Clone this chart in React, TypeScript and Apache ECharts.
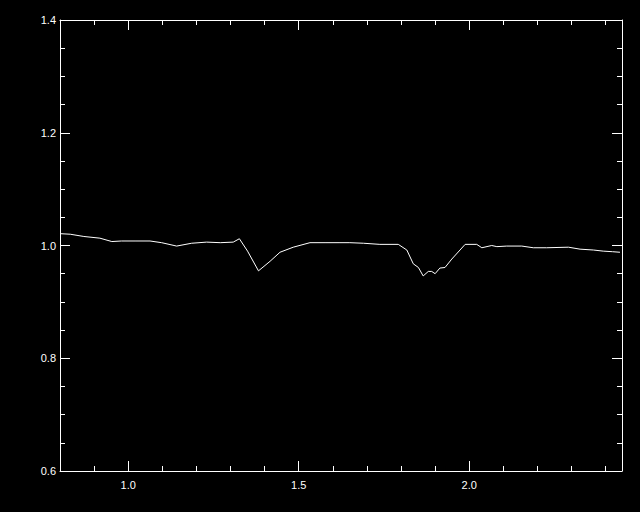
import React, { useEffect, useRef } from "react";
import * as echarts from "echarts";

const wavelength = [
  0.8, 0.83, 0.87, 0.917, 0.952, 0.98, 1.02, 1.064, 1.098, 1.142, 1.186, 1.23, 1.27, 1.308, 1.326,
  1.35, 1.382, 1.416, 1.445, 1.484, 1.533, 1.58, 1.621, 1.65, 1.69, 1.738, 1.792, 1.817, 1.836,
  1.851, 1.865, 1.88, 1.89, 1.9, 1.914, 1.929, 1.949, 1.973, 1.988, 2.022, 2.037, 2.066, 2.081,
  2.11, 2.154, 2.188, 2.227, 2.291, 2.325, 2.364, 2.393, 2.42, 2.442,
];
const flux = [
  1.021, 1.02, 1.016, 1.013, 1.007, 1.008, 1.008, 1.008, 1.005, 0.999, 1.004, 1.006, 1.005, 1.006,
  1.012, 0.99, 0.955, 0.972, 0.988, 0.997, 1.005, 1.005, 1.005, 1.005, 1.004, 1.002, 1.002, 0.992,
  0.9675, 0.961, 0.946, 0.954, 0.954, 0.95, 0.96, 0.961, 0.976, 0.992, 1.002, 1.002, 0.996, 1.0,
  0.998, 0.999, 0.999, 0.996, 0.996, 0.997, 0.9935, 0.992, 0.99, 0.989, 0.988,
];
const xMajor = [1.0, 1.5, 2.0];
const xMinor = [0.8, 0.9, 1.1, 1.2, 1.3, 1.4, 1.6, 1.7, 1.8, 1.9, 2.1, 2.2, 2.3, 2.4];
const yMajor = [0.6, 0.8, 1.0, 1.2, 1.4];
const yMinor = [0.65, 0.7, 0.75, 0.85, 0.9, 0.95, 1.05, 1.1, 1.15, 1.25, 1.3, 1.35];

const X_MIN = 0.8;
const X_MAX = 2.448;
const Y_MIN = 0.6;
const Y_MAX = 1.4;

export default function App() {
  const ref = useRef<HTMLDivElement>(null);
  useEffect(() => {
    if (!ref.current) return;
    const chart = echarts.init(ref.current, undefined, { renderer: "svg" });
    const white = "#ffffff";
    const font = { color: white, fontSize: 11, fontFamily: "Liberation Sans, Arial, sans-serif" };
    const mkX = (position: string, ticks: number[], len: number, labels: boolean, line: boolean) => ({
      type: "value",
      position,
      min: X_MIN,
      max: X_MAX,
      axisLine: { show: line, lineStyle: { color: white, width: 1 } },
      axisTick: { show: true, inside: true, length: len, customValues: ticks, lineStyle: { color: white, width: 1 } },
      axisLabel: labels
        ? { show: true, customValues: ticks, formatter: (v: number) => v.toFixed(1), margin: 8, ...font }
        : { show: false },
      splitLine: { show: false },
    });
    const mkY = (position: string, ticks: number[], len: number, labels: boolean, line: boolean) => ({
      type: "value",
      position,
      min: Y_MIN,
      max: Y_MAX,
      axisLine: { show: line, lineStyle: { color: white, width: 1 } },
      axisTick: { show: true, inside: true, length: len, customValues: ticks, lineStyle: { color: white, width: 1 } },
      axisLabel: labels
        ? { show: true, customValues: ticks, formatter: (v: number) => v.toFixed(1), margin: 4, ...font }
        : { show: false },
      splitLine: { show: false },
    });
    chart.setOption({
      animation: false,
      backgroundColor: "#000000",
      grid: { left: 60, right: 18, top: 20, bottom: 41 },
      xAxis: [
        mkX("bottom", xMajor, 10, true, true),
        mkX("bottom", xMinor, 5, false, false),
        mkX("top", xMajor, 10, false, true),
        mkX("top", xMinor, 5, false, false),
      ],
      yAxis: [
        mkY("left", yMajor, 10, true, true),
        mkY("left", yMinor, 5, false, false),
        mkY("right", yMajor, 10, false, true),
        mkY("right", yMinor, 5, false, false),
      ],
      series: [
        {
          type: "line",
          xAxisIndex: 0,
          yAxisIndex: 0,
          data: wavelength.map((w, i) => [w, flux[i]]),
          showSymbol: false,
          lineStyle: { color: white, width: 1 },
        },
      ],
    });
    return () => chart.dispose();
  }, []);
  return (
    <div
      ref={ref}
      style={{ position: "fixed", left: 0, top: 0, width: 640, height: 512, background: "#000" }}
    />
  );
}
